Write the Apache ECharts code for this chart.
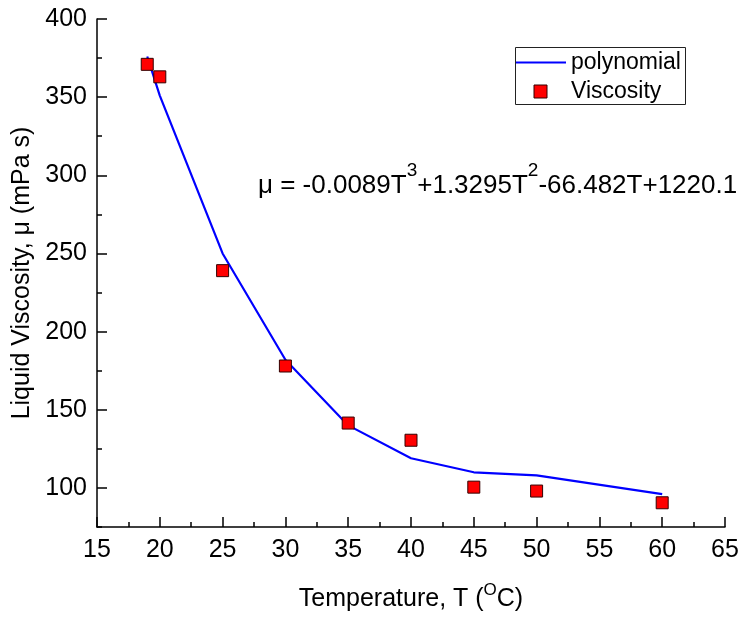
<!DOCTYPE html>
<html>
<head>
<meta charset="utf-8">
<script src="https://cdn.jsdelivr.net/npm/echarts@6/dist/echarts.min.js"></script>
<style>html,body{margin:0;padding:0;background:#fff}#c{width:743px;height:623px}</style>
</head>
<body>
<div id="c"></div>
<script>
const temps = [19, 20, 25, 30, 35, 40, 45, 50, 60];
const viscosity = [371, 363, 239, 178, 141.5, 130.5, 100.5, 98, 90.5];
const polyFit = [376, 351, 250, 182, 140, 119, 110, 108, 96];
const xMajorTicks = [15, 20, 25, 30, 35, 40, 45, 50, 55, 60, 65];
const xMinorTicks = [17.5, 22.5, 27.5, 32.5, 37.5, 42.5, 47.5, 52.5, 57.5, 62.5];
const yMajorTicks = [100, 150, 200, 250, 300, 350, 400];
const yMinorTicks = [75, 125, 175, 225, 275, 325, 375];
const xTitle = '{m|Temperature, T (}{s|O}{m|C)}';
const yTitle = 'Liquid Viscosity, \u03bc (mPa s)';
const equation = '{m|\u03bc = -0.0089T}{s|3}{m|+1.3295T}{s|2}{m|-66.482T+1220.1}';

const FONT = '"Liberation Sans", Arial, sans-serif';
const chart = echarts.init(document.getElementById('c'), null, {renderer: 'canvas'});
const axisCommon = {
  type: 'value', min: 15, max: 65, splitLine: {show: false}
};
chart.setOption({
  animation: false,
  textStyle: {fontFamily: FONT, color: '#000'},
  grid: {left: 97, right: 18, top: 19, bottom: 96, containLabel: false},
  legend: {
    left: 515, top: 51, padding: 0, orient: 'vertical',
    itemWidth: 51, itemHeight: 13, itemGap: 6,
    textStyle: {fontSize: 23, color: '#000', fontFamily: FONT},
    data: [
      {name: 'polynomial', icon: 'path://M0 0H100V4.4H0Z', itemStyle: {color: '#0000ff', borderWidth: 0}},
      {name: 'Viscosity', icon: 'path://M0 0H10V10H0Z', itemStyle: {color: '#ff0000', borderColor: '#300', borderWidth: 1}}
    ]
  },
  xAxis: [
    Object.assign({}, axisCommon, {
      position: 'bottom',
      axisLine: {lineStyle: {color: '#000', width: 1.5}},
      axisTick: {customValues: xMajorTicks, inside: true, length: 10, lineStyle: {color: '#000', width: 1.5}},
      axisLabel: {customValues: xMajorTicks, fontSize: 25, color: '#000', margin: 11, fontFamily: FONT},
      name: xTitle, nameLocation: 'middle', nameGap: 55,
      nameTextStyle: {fontSize: 25, color: '#000', fontFamily: FONT,
        rich: {
          m: {fontSize: 25, lineHeight: 30, verticalAlign: 'bottom', fontFamily: FONT, color: '#000'},
          s: {fontSize: 17, lineHeight: 17, verticalAlign: 'top', fontFamily: FONT, color: '#000'}
        }}
    }),
    Object.assign({}, axisCommon, {
      position: 'bottom',
      axisLine: {show: false},
      axisTick: {customValues: xMinorTicks, inside: true, length: 5, lineStyle: {color: '#000', width: 1.5}},
      axisLabel: {show: false}
    })
  ],
  yAxis: [
    {
      type: 'value', min: 75, max: 400, position: 'left', splitLine: {show: false},
      axisLine: {show: true, lineStyle: {color: '#000', width: 1.5}},
      axisTick: {show: true, customValues: yMajorTicks, inside: true, length: 10, lineStyle: {color: '#000', width: 1.5}},
      axisLabel: {customValues: yMajorTicks, fontSize: 25, color: '#000', margin: 10, fontFamily: FONT},
      name: yTitle, nameLocation: 'middle', nameGap: 57,
      nameTextStyle: {fontSize: 25, color: '#000', fontFamily: FONT}
    },
    {
      type: 'value', min: 75, max: 400, position: 'left', splitLine: {show: false},
      axisLine: {show: false},
      axisTick: {show: true, customValues: yMinorTicks, inside: true, length: 5, lineStyle: {color: '#000', width: 1.5}},
      axisLabel: {show: false}
    }
  ],
  graphic: [
    {type: 'rect', left: 513, top: 45, z: 100, silent: true,
     shape: {width: 170, height: 57}, style: {fill: 'none', stroke: '#222', lineWidth: 1}},
    {type: 'text', x: 258, y: 180, z: 100, silent: true,
     style: {text: equation, verticalAlign: 'middle', align: 'left', fill: '#000',
       rich: {
         m: {fontSize: 26, lineHeight: 37, verticalAlign: 'bottom', fontFamily: FONT, fill: '#000'},
         s: {fontSize: 19, lineHeight: 19, verticalAlign: 'top', fontFamily: FONT, fill: '#000'}
       }}}
  ],
  series: [
    {name: 'polynomial', type: 'line', xAxisIndex: 0, yAxisIndex: 0, symbol: 'none',
     lineStyle: {color: '#0000ff', width: 2.2}, itemStyle: {color: '#0000ff'},
     data: temps.map((t, i) => [t, polyFit[i]]), z: 2},
    {name: 'Viscosity', type: 'scatter', xAxisIndex: 0, yAxisIndex: 0, symbol: 'rect', symbolSize: 12,
     itemStyle: {color: '#ff0000', borderColor: '#300', borderWidth: 1, opacity: 1},
     data: temps.map((t, i) => [t, viscosity[i]]), z: 3}
  ]
});
</script>
</body>
</html>
